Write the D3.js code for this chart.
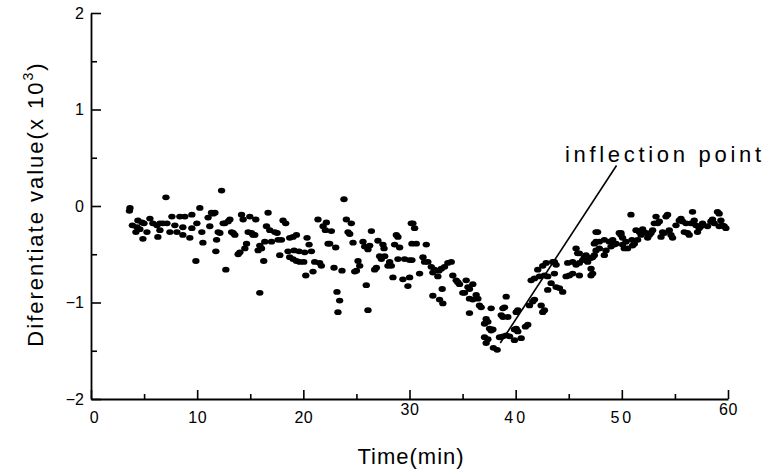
<!DOCTYPE html>
<html>
<head>
<meta charset="utf-8">
<script src="https://cdn.jsdelivr.net/npm/d3@7"></script>
<style>
  body { margin: 0; background: #fff; }
  svg { display: block; }
  text { font-family: "Liberation Sans", Arial, sans-serif; fill: #000; }
</style>
</head>
<body>
<svg id="chart" width="776" height="473"></svg>
<script>
// time (min) and differentiate value (x 10^3)
const timeMin = [
  3.62, 3.67, 3.9, 4.23, 4.33, 4.42, 4.6, 4.8, 4.89, 4.99, 5.27, 5.55, 5.83, 6.21, 6.3, 6.49, 6.49, 6.77,
  7.06, 7.15, 7.43, 7.62, 7.9, 8.09, 8.37, 8.65, 8.65, 8.84, 9.31, 9.5, 9.5, 9.88, 9.97, 10.25, 10.44, 10.54,
  11.03, 11.19, 11.35, 11.51, 11.67, 11.76, 11.83, 11.98, 12.14, 12.3, 12.45, 12.6, 12.7, 12.92, 13.08,
  13.24, 13.39, 13.55, 13.86, 14.02, 14.18, 14.33, 14.49, 14.65, 14.8, 14.96, 15.12, 15.27, 15.43, 15.52,
  15.74, 15.9, 15.9, 16.06, 16.27, 16.37, 16.53, 16.68, 16.84, 17.0, 17.31, 17.53, 17.62, 17.78, 17.94,
  18.09, 18.34, 18.56, 18.72, 18.72, 19.03, 19.03, 19.13, 19.35, 19.35, 19.6, 19.66, 20.04, 20.13, 20.23,
  20.35, 20.54, 20.76, 20.91, 21.07, 21.38, 21.54, 21.7, 21.86, 22.08, 22.17, 22.33, 22.48, 22.64, 22.89,
  23.05, 23.17, 23.26, 23.42, 23.64, 23.83, 24.05, 24.21, 24.37, 24.52, 24.68, 24.84, 25.0, 25.15, 25.31,
  25.62, 25.78, 25.93, 26.09, 26.09, 26.25, 26.41, 26.72, 26.88, 27.03, 27.19, 27.35, 27.5, 27.6, 27.66,
  27.97, 28.13, 28.29, 28.44, 28.6, 28.76, 28.91, 28.91, 29.07, 29.38, 29.54, 29.85, 30.01, 30.01, 30.17,
  30.23, 30.23, 30.32, 30.48, 30.64, 30.95, 31.27, 31.42, 31.58, 31.73, 32.05, 32.2, 32.2, 32.36, 32.67,
  32.77, 32.83, 33.0, 33.08, 33.14, 33.3, 33.61, 33.93, 34.08, 34.4, 34.55, 34.71, 35.02, 35.18, 35.34,
  35.5, 35.65, 35.65, 35.65, 35.96, 35.96, 36.28, 36.44, 36.59, 36.75, 37.07, 37.07, 37.22, 37.22, 37.38,
  37.38, 37.54, 37.69, 37.69, 37.85, 37.9, 38.26, 38.48, 38.64, 38.8, 38.8, 38.8, 38.95, 39.11, 39.11,
  39.26, 39.42, 39.89, 39.89, 40.05, 40.05, 40.2, 40.2, 40.52, 40.92, 41.14, 41.3, 41.46, 41.61, 41.77,
  41.77, 42.08, 42.24, 42.4, 42.55, 42.55, 42.71, 42.71, 42.87, 43.02, 43.02, 43.34, 43.49, 43.65, 43.65,
  43.81, 43.81, 44.12, 44.43, 44.75, 44.9, 45.06, 45.37, 45.37, 45.69, 45.69, 45.84, 46.0, 46.0, 46.0,
  46.31, 46.47, 46.63, 46.78, 46.94, 47.1, 47.1, 47.1, 47.25, 47.25, 47.41, 47.41, 47.57, 47.57, 47.57,
  47.72, 47.88, 47.88, 48.35, 48.35, 48.51, 48.82, 48.98, 49.14, 49.29, 49.45, 49.76, 49.92, 49.92, 50.07,
  50.07, 50.23, 50.39, 50.54, 50.86, 50.95, 51.01, 51.18, 51.34, 51.49, 51.65, 51.81, 51.96, 52.28, 52.43,
  52.59, 52.75, 52.9, 53.06, 53.22, 53.37, 53.53, 53.69, 53.84, 54.0, 54.16, 54.31, 54.47, 54.63, 54.78,
  55.1, 55.41, 55.57, 55.72, 55.88, 56.04, 56.19, 56.35, 56.51, 56.66, 56.82, 56.98, 57.13, 57.29, 57.45,
  57.6, 58.07, 58.39, 58.54, 58.7, 59.01, 59.17, 59.17, 59.33, 59.48, 59.64, 59.8
];
const diffValue = [
  -0.05, -0.02, -0.2, -0.27, -0.22, -0.15, -0.24, -0.17, -0.34, -0.18, -0.27, -0.13, -0.18, -0.2, -0.32, -0.18, -0.25, -0.18,
  0.09, -0.18, -0.27, -0.11, -0.2, -0.27, -0.11, -0.3, -0.22, -0.11, -0.33, -0.09, -0.23, -0.57, -0.18, -0.02, -0.27, -0.38,
  -0.12, -0.21, -0.07, -0.08, -0.07, -0.47, -0.35, -0.27, -0.28, 0.16, -0.18, -0.18, -0.66, -0.16, -0.14,
  -0.27, -0.28, -0.3, -0.5, -0.48, -0.09, -0.14, -0.44, -0.39, -0.27, -0.11, -0.28, -0.3, -0.3, -0.14,
  -0.46, -0.41, -0.9, -0.44, -0.57, -0.37, -0.21, -0.07, -0.25, -0.37, -0.27, -0.28, -0.35, -0.51, -0.35,
  -0.15, -0.18, -0.47, -0.53, -0.33, -0.55, -0.32, -0.46, -0.57, -0.3, -0.47, -0.58, -0.58, -0.48, -0.72,
  -0.33, -0.4, -0.47, -0.68, -0.58, -0.14, -0.59, -0.62, -0.21, -0.25, -0.17, -0.39, -0.39, -0.26, -0.64,
  -0.43, -0.89, -1.1, -0.98, -0.67, 0.07, -0.14, -0.27, -0.29, -0.18, -0.38, -0.68, -0.67, -0.57, -0.62,
  -0.37, -0.42, -0.82, -0.45, -1.08, -0.41, -0.26, -0.66, -0.64, -0.36, -0.52, -0.55, -0.4, -0.44, -0.52,
  -0.62, -0.58, -0.62, -0.74, -0.4, -0.3, -0.32, -0.55, -0.43, -0.76, -0.55, -0.83, -0.74, -0.56, -0.18,
  -0.56, -0.39, -0.18, -0.23, -0.39, -0.7, -0.53, -0.58, -0.4, -0.58, -0.63, -0.69, -0.93, -0.66, -0.73,
  -0.67, -0.97, -0.65, -0.86, -1.01, -0.63, -0.59, -0.58, -0.72, -0.77, -0.79, -0.81, -0.9, -0.9, -0.77,
  -0.84, -0.86, -0.96, -1.11, -0.81, -0.97, -0.92, -0.96, -1.03, -1.05, -1.36, -1.22, -1.17, -1.42, -1.2,
  -1.38, -1.27, -1.06, -1.29, -1.28, -1.47, -1.49, -1.36, -1.13, -1.15, -1.35, -1.06, -1.05, -0.94, -1.34,
  -1.15, -1.35, -1.39, -1.28, -1.1, -1.27, -1.3, -1.08, -1.37, -1.25, -1.23, -1.03, -0.77, -0.99, -0.97,
  -0.75, -0.66, -0.73, -1.03, -0.62, -1.1, -1.08, -0.72, -0.59, -0.73, -0.87, -0.8, -0.58, -0.58, -0.7,
  -0.84, -0.61, -0.85, -0.89, -0.73, -0.59, -0.72, -0.7, -0.58, -0.61, -0.44, -0.49, -0.59, -0.49, -0.72,
  -0.56, -0.53, -0.51, -0.58, -0.54, -0.65, -0.54, -0.72, -0.7, -0.53, -0.39, -0.51, -0.27, -0.37, -0.46,
  -0.27, -0.37, -0.44, -0.35, -0.51, -0.46, -0.37, -0.42, -0.35, -0.4, -0.39, -0.28, -0.3, -0.28, -0.33,
  -0.4, -0.44, -0.37, -0.44, -0.09, -0.35, -0.41, -0.39, -0.25, -0.35, -0.27, -0.3, -0.24, -0.28, -0.33,
  -0.3, -0.28, -0.25, -0.18, -0.11, -0.18, -0.16, -0.32, -0.27, -0.28, -0.11, -0.09, -0.25, -0.3, -0.33,
  -0.2, -0.15, -0.13, -0.16, -0.27, -0.18, -0.28, -0.3, -0.18, -0.06, -0.15, -0.2, -0.27, -0.23, -0.21,
  -0.18, -0.21, -0.16, -0.14, -0.18, -0.06, -0.08, -0.21, -0.15, -0.2, -0.21, -0.23
];
const xTicks = [0, 10, 20, 30, 40, 50, 60];
const yTicks = [-2, -1, 0, 1, 2];
// annotation: label and the two ends of its pointer, in data units
const noteText = "inflection point";
const noteFrom = [49.5, 0.42];
const noteTo = [38.55, -1.42];

const svg = d3.select("#chart");

const x = d3.scaleLinear().domain([0, 60]).range([91, 728]);
const y = d3.scaleLinear().domain([-2, 2]).range([399, 13]);

const points = timeMin.map((t, i) => ({ t: t, v: diffValue[i] }));

// minor ticks
svg.append("g")
  .attr("transform", "translate(0,399)")
  .call(d3.axisBottom(x).tickValues(d3.range(5, 60, 10)).tickSizeInner(-5).tickSizeOuter(0).tickFormat(""))
  .call(g => g.select(".domain").remove())
  .selectAll("line").attr("stroke-width", 1.6);

svg.append("g")
  .attr("transform", "translate(91,0)")
  .call(d3.axisLeft(y).tickValues([-1.5, -0.5, 0.5, 1.5]).tickSizeInner(-6).tickSizeOuter(0).tickFormat(""))
  .call(g => g.select(".domain").remove())
  .selectAll("line").attr("stroke-width", 1.6);

// x axis
const gx = svg.append("g")
  .attr("transform", "translate(0,399)")
  .call(d3.axisBottom(x).tickValues(xTicks).tickSizeInner(-9).tickSizeOuter(0).tickPadding(10));
gx.select(".domain").attr("stroke-width", 1.8);
gx.selectAll("line").attr("stroke-width", 1.6);
gx.selectAll("text")
  .attr("font-size", 16)
  .style("font-family", "'Liberation Sans', Arial, sans-serif")
  .attr("dx", d => d === 0 ? 3 : 0)
  .attr("dy", d => (d === 30 || d === 60) ? "0.4em" : "0.85em")
  .attr("letter-spacing", d => (d === 40 || d === 50) ? 3 : 0.5);

// y axis
const gy = svg.append("g")
  .attr("transform", "translate(91,0)")
  .call(d3.axisLeft(y).tickValues(yTicks).tickSizeInner(-10).tickSizeOuter(0).tickPadding(7)
    .tickFormat(d3.format("d")));
gy.select(".domain").attr("stroke-width", 1.8);
gy.selectAll("line").attr("stroke-width", 1.6);
gy.selectAll("text")
  .attr("font-size", 16)
  .style("font-family", "'Liberation Sans', Arial, sans-serif");

// points
svg.append("g")
  .selectAll("ellipse")
  .data(points)
  .join("ellipse")
  .attr("cx", d => x(d.t))
  .attr("cy", d => y(d.v))
  .attr("rx", 3.7)
  .attr("ry", 2.9)
  .attr("fill", "#000");

// annotation
svg.append("line")
  .attr("x1", x(noteFrom[0]))
  .attr("y1", y(noteFrom[1]))
  .attr("x2", x(noteTo[0]))
  .attr("y2", y(noteTo[1]))
  .attr("stroke", "#000")
  .attr("stroke-width", 1.6);

svg.append("text")
  .attr("x", 565)
  .attr("y", 162)
  .attr("font-size", 22)
  .attr("textLength", 196)
  .attr("lengthAdjust", "spacing")
  .text(noteText);

// axis titles
svg.append("text")
  .attr("x", 411)
  .attr("y", 464)
  .attr("text-anchor", "middle")
  .attr("font-size", 22)
  .attr("letter-spacing", 1)
  .text("Time(min)");

const yTitle = svg.append("text")
  .attr("transform", "translate(43,204) rotate(-90)")
  .attr("text-anchor", "middle")
  .attr("font-size", 22)
  .attr("letter-spacing", 2);
yTitle.append("tspan").text("Diferentiate value(x 10");
yTitle.append("tspan").attr("font-size", 14).attr("dy", -10).text("3");
yTitle.append("tspan").attr("dy", 10).text(")");
</script>
</body>
</html>
